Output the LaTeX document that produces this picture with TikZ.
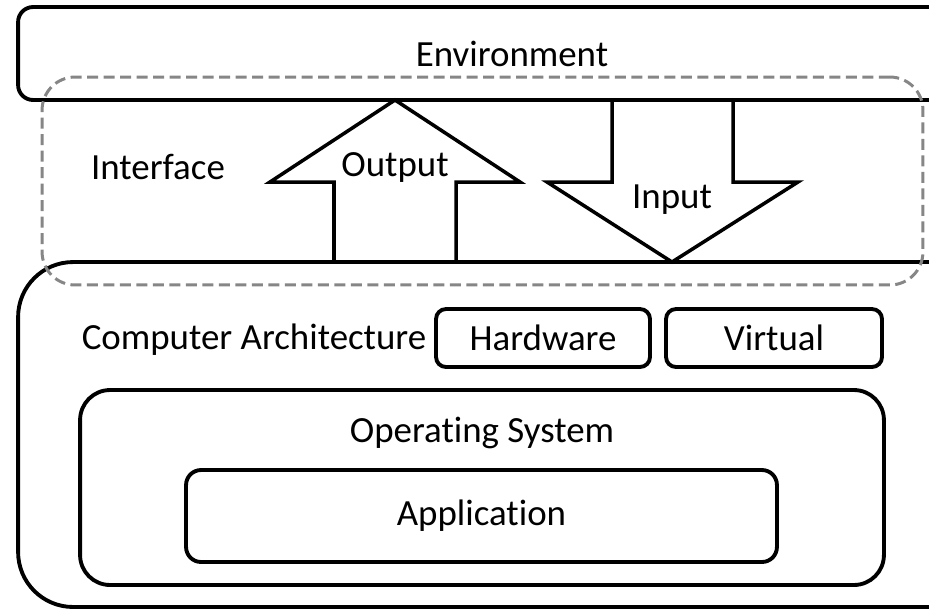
\documentclass[tikz,border=0pt]{standalone}
\usepackage{fontspec}
\setmainfont[Ligatures=NoCommon]{Carlito}
\usepackage{tikz}
\usetikzlibrary{positioning}
\tikzset{
  box/.style={draw, line width=2.2pt, inner sep=0pt, font=\fontsize{21}{24}\selectfont},
  plain/.style={inner sep=0pt, font=\fontsize{21}{24}\selectfont},
  blockarrow/.style={draw, line width=2pt, line join=miter},
  iface/.style={draw=gray!95, dashed, dash pattern=on 0.22cm off 0.11cm, line width=1.7pt},
}

\begin{document}
\begin{tikzpicture}[x=0.02cm, y=-0.02cm]
\useasboundingbox (0,0) rectangle (929,610);
\clip (0,0) rectangle (929,610);
%Nodes
\node[box, rounded corners=0.3cm, minimum width=19.76cm, minimum height=1.86cm] (env) at (512,53.5) {Environment};
\node[box, rounded corners=1.1cm, minimum width=19.44cm, minimum height=6.9cm] (comp) at (504,434.5) {};
\node[plain] (arch) at (254,340) {Computer Architecture};
\node[box, rounded corners=0.2cm, minimum width=4.28cm, minimum height=1.16cm] (hw) at (543,338) {Hardware};
\node[box, rounded corners=0.2cm, minimum width=4.32cm, minimum height=1.16cm] (virt) at (774,338) {Virtual};
\node[box, rounded corners=0.6cm, minimum width=16.08cm, minimum height=3.9cm] (os) at (482,487.5) {};
\node[plain] (ostext) at (482,433) {Operating System};
\node[box, rounded corners=0.3cm, minimum width=11.82cm, minimum height=1.84cm] (app) at (481.5,516) {Application};

%Arrows
\draw[blockarrow] (334,262) -- (334,182) -- (270,182) -- (395,100) -- (520,182) -- (456,182) -- (456,262);
\draw[blockarrow] (612,100) -- (612,182) -- (547,182) -- (672,262) -- (798,182) -- (733,182) -- (733,100);
\node[plain] (out) at (395,167) {Output};
\node[plain] (in) at (672,200) {Input};

%Interface
\node[iface, rounded corners=0.66cm, minimum width=17.62cm, minimum height=4.16cm] (intf) at (482.5,181) {};
\node[plain] (intftext) at (158,167) {Interface};
\end{tikzpicture}
\end{document}
